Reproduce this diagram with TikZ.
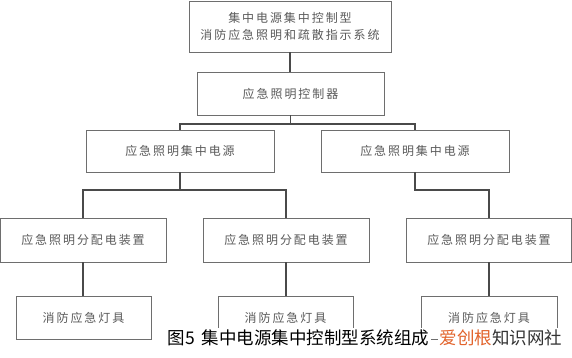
\documentclass[tikz,border=0pt]{standalone}
\usepackage{fontspec}
\newfontfamily\cjk{Noto Sans CJK SC}
\newfontfamily\boxfont[LetterSpace=16]{Noto Sans CJK SC}
\definecolor{boxline}{HTML}{6E6E6E}
\definecolor{conn}{HTML}{4A4A4A}
\definecolor{boxtext}{HTML}{5A5A5A}
\definecolor{wmorange}{HTML}{E2632B}
\definecolor{wmgray}{HTML}{333333}
\begin{document}
\begin{tikzpicture}[x=1pt,y=-1pt,
  box/.style={draw=boxline, line width=0.8pt, fill=white, inner sep=0pt,
    font=\boxfont\fontsize{12}{17}\selectfont, text=boxtext, align=center},
  link/.style={draw=conn, line width=1.2pt},
  captext/.style={anchor=base west, fill=white, inner sep=1.5pt,
    font=\cjk\fontsize{17.5}{17.5}\selectfont}]
\useasboundingbox (0,0) rectangle (572,357);
% boxes
\node[box, minimum width=202pt, minimum height=51pt] (top) at (290,26.5)
  {集中电源集中控制型\\消防应急照明和疏散指示系统};
\node[box, minimum width=187pt, minimum height=43pt] (ctrl) at (290.5,93.5) {应急照明控制器};
\node[box, minimum width=188pt, minimum height=42pt] (pwrL) at (180,151) {应急照明集中电源};
\node[box, minimum width=188pt, minimum height=42pt] (pwrR) at (415,151) {应急照明集中电源};
\node[box, minimum width=166pt, minimum height=44pt] (distL) at (83,240) {应急照明分配电装置};
\node[box, minimum width=166pt, minimum height=44pt] (distM) at (286,240) {应急照明分配电装置};
\node[box, minimum width=165pt, minimum height=44pt] (distR) at (489,240) {应急照明分配电装置};
\node[box, minimum width=135pt, minimum height=43pt] (lampL) at (83.5,317.5) {消防应急灯具};
\node[box, minimum width=135pt, minimum height=43pt] (lampM) at (285.5,317.5) {消防应急灯具};
\node[box, minimum width=136pt, minimum height=43pt] (lampR) at (489,317.5) {消防应急灯具};
% junctions
\coordinate (j1) at (290.5,124);
\coordinate (j2) at (180,190);
\coordinate (j3) at (415,190);
% connectors
\draw[link] (top.south) -- (top.south |- ctrl.north);
\draw[link] (ctrl.south) -- (j1);
\draw[link] (pwrL.north) |- (j1) -| (pwrR.north);
\draw[link] (pwrL.south) -- (j2);
\draw[link] (distL.north) |- (j2) -| (distM.north);
\draw[link] (pwrR.south) -- (j3) -| (distR.north);
\draw[link] (distL.south) -- (distL.south |- lampL.north);
\draw[link] (distM.south) -- (distM.south |- lampM.north);
\draw[link] (distR.south) -- (distR.south |- lampR.north);
% caption and watermark
\node[captext] (cap) at (166,344.5) {图5\hspace{7pt}集中电源集中控制型系统组成};
\node[captext] (wm) at (438,344.5) {\textcolor{wmorange}{爱创根}\textcolor{wmgray}{知识网社}};
\end{tikzpicture}
\end{document}
